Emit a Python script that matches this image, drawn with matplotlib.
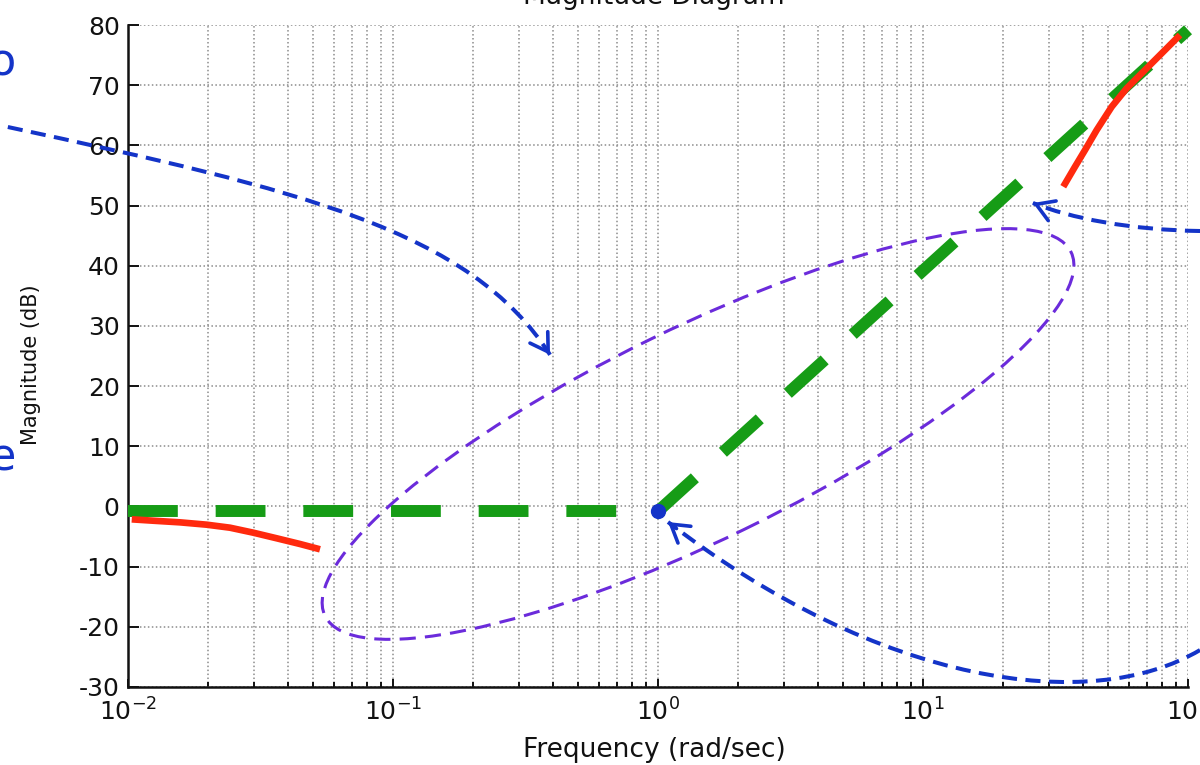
import numpy as np
import matplotlib
matplotlib.use("Agg")
import matplotlib.pyplot as plt
from matplotlib.patches import Ellipse, PathPatch
from matplotlib.path import Path
from matplotlib.transforms import ScaledTranslation
from matplotlib.ticker import LogLocator, NullFormatter

# ---------------- data ----------------
x_ticks = [1e-2, 1e-1, 1e0, 1e1, 1e2]
x_ticklabels = [r"$10^{-2}$", r"$10^{-1}$", r"$10^{0}$", r"$10^{1}$", r"$10^{2}$"]
y_ticks = [-30, -20, -10, 0, 10, 20, 30, 40, 50, 60, 70, 80]
y_ticklabels = ["-30", "-20", "-10", "0", "10", "20", "30", "40", "50", "60", "70", "80"]

# straight-line (asymptotic) approximation
asym_flat_freq = [0.01, 1.0]
asym_flat_db = [-0.8, -0.8]
asym_rise_freq = [1.0, 100.0]
asym_rise_db = [-0.8, 79.2]

# exact curve pieces
exact_low_freq = [0.01033, 0.01246, 0.01571, 0.01982, 0.02426, 0.02971, 0.03639, 0.04458, 0.05303]
exact_low_db = [-2.14, -2.37, -2.64, -3.03, -3.53, -4.36, -5.29, -6.24, -7.12]
exact_high_freq = [33.83, 37.46, 40.88, 45.24, 51.54, 58.70, 67.81, 79.59, 93.29]
exact_high_db = [53.13, 56.45, 59.23, 62.55, 66.42, 69.48, 72.24, 75.30, 78.34]

# corner frequency point
corner_freq = [1.0]
corner_db = [-0.8]

# annotation curves (cubic Bezier control points, freq / dB)
arrow1_freq = [0.00352, 0.0446, 0.1954, 0.3914]
arrow1_db = [63.05, 52.6, 45.9, 25.2]
arrow2_freq = [111.0, 60.4, 35.9, 26.0]
arrow2_db = [45.77, 45.94, 47.93, 50.42]
arrow3_freq = [111.0, 42.7, 6.88, 1.091]
arrow3_db = [-23.86, -34.66, -29.67, -2.59]

# highlighted region (ellipse centre in freq / dB)
ellipse_center_freq = 1.416
ellipse_center_db = 12.04

# ---------------- style ----------------
plt.rcParams["font.family"] = ["DejaVu Sans"]
plt.rcParams["axes.unicode_minus"] = False
plt.rcParams["mathtext.fontset"] = "dejavusans"

GREEN = "#169c16"
RED = "#ff2a0e"
BLUE = "#1434c8"
PURPLE = "#6b2bdb"
GRID = "#8c8c8c"

fig = plt.figure(figsize=(12, 7.65), dpi=100)
ax = fig.add_axes([128 / 1200, 78 / 765, 1060 / 1200, 662 / 765])

ax.set_xscale("log")
ax.set_xlim(1e-2, 1e2)
ax.set_ylim(-30, 80)
ax.set_xticks(x_ticks, x_ticklabels)
ax.xaxis.set_minor_locator(LogLocator(base=10, subs=np.arange(2, 10)))
ax.xaxis.set_minor_formatter(NullFormatter())
ax.set_yticks(y_ticks, y_ticklabels)

for s in ("top", "right"):
    ax.spines[s].set_visible(False)
for s in ("left", "bottom"):
    ax.spines[s].set_linewidth(1.8)
    ax.spines[s].set_color("#111111")

ax.tick_params(axis="both", which="both", direction="in", labelsize=18,
               colors="#111111", width=1.4)
ax.tick_params(axis="y", which="major", length=8, pad=6, left=True, right=False)
ax.tick_params(axis="x", which="major", length=5.5, pad=8, bottom=True, top=False)
ax.tick_params(axis="x", which="minor", length=3.5, bottom=True, top=False)

ax.grid(True, which="major", axis="both", color=GRID, linestyle=(0, (1, 1.6)), linewidth=1.1)
ax.grid(True, which="minor", axis="x", color=GRID, linestyle=(0, (1, 1.6)), linewidth=1.1)
ax.set_axisbelow(True)

# asymptotes
ax.plot(asym_flat_freq, asym_flat_db, color=GREEN, lw=8.6, dashes=(4.17, 3.17),
        dash_capstyle="butt", zorder=3, clip_on=False)
ax.plot(asym_rise_freq, asym_rise_db, color=GREEN, lw=8.6, dashes=(4.17, 3.17),
        dash_capstyle="butt", zorder=3, clip_on=False)

# exact curve pieces
ax.plot(exact_low_freq, exact_low_db, color=RED, lw=4.8, solid_capstyle="butt", zorder=4)
ax.plot(exact_high_freq, exact_high_db, color=RED, lw=4.8, solid_capstyle="butt", zorder=4)

# corner point
ax.plot(corner_freq, corner_db, "o", color=BLUE, markersize=10, zorder=6)

# ellipse (drawn in inches around a data-coordinate centre)
ell = Ellipse((0, 0), width=8.30, height=2.12, angle=26, fill=False,
              edgecolor=PURPLE, lw=2.2, linestyle=(0, (5.3, 3.0)),
              transform=fig.dpi_scale_trans + ScaledTranslation(
                  ellipse_center_freq, ellipse_center_db, ax.transData),
              zorder=5, clip_on=False)
ax.add_patch(ell)

# annotation arrows
codes = [Path.MOVETO, Path.CURVE4, Path.CURVE4, Path.CURVE4]
for fr, db in ((arrow1_freq, arrow1_db), (arrow2_freq, arrow2_db), (arrow3_freq, arrow3_db)):
    verts = list(zip(fr, db))
    pp = PathPatch(Path(verts, codes), fill=False, edgecolor=BLUE, lw=2.9,
                   linestyle=(0, (3.75, 2.1)), transform=ax.transData,
                   clip_on=False, zorder=7)
    ax.add_patch(pp)
    lf3, lf2 = np.log10(fr[3]), np.log10(fr[2])
    near = (10 ** (lf3 + 0.04 * (lf2 - lf3)), db[3] + 0.04 * (db[2] - db[3]))
    ax.annotate("", xy=(fr[3], db[3]), xytext=near,
                arrowprops=dict(arrowstyle="->,head_length=0.62,head_width=0.38",
                                lw=2.6, color=BLUE, shrinkA=0, shrinkB=0,
                                mutation_scale=20),
                annotation_clip=False, zorder=8)

# labels
ax.set_xlabel("Frequency (rad/sec)", fontsize=19, color="#111111")
ax.xaxis.label.set_va("baseline")
ax.xaxis.set_label_coords((654 - 128) / 1060, (687 - 757) / 662)
ax.set_ylabel("Magnitude (dB)", fontsize=15, color="#111111")
ax.yaxis.label.set_va("center")
ax.yaxis.label.set_ha("center")
ax.yaxis.set_label_coords((31 - 128) / 1060, (687 - 365) / 662)

fig.text(653.5 / 1200, 1 - 4 / 765, "Magnitude Diagram", ha="center", va="baseline",
         fontsize=19, color="#111111")

# cut-off side text
fig.text(16 / 1200, 1 - 75 / 765, "o", ha="right", va="baseline", fontsize=32, color=BLUE)
fig.text(16 / 1200, 1 - 470 / 765, "e", ha="right", va="baseline", fontsize=32, color=BLUE)

fig.savefig("out.png", dpi=100)
